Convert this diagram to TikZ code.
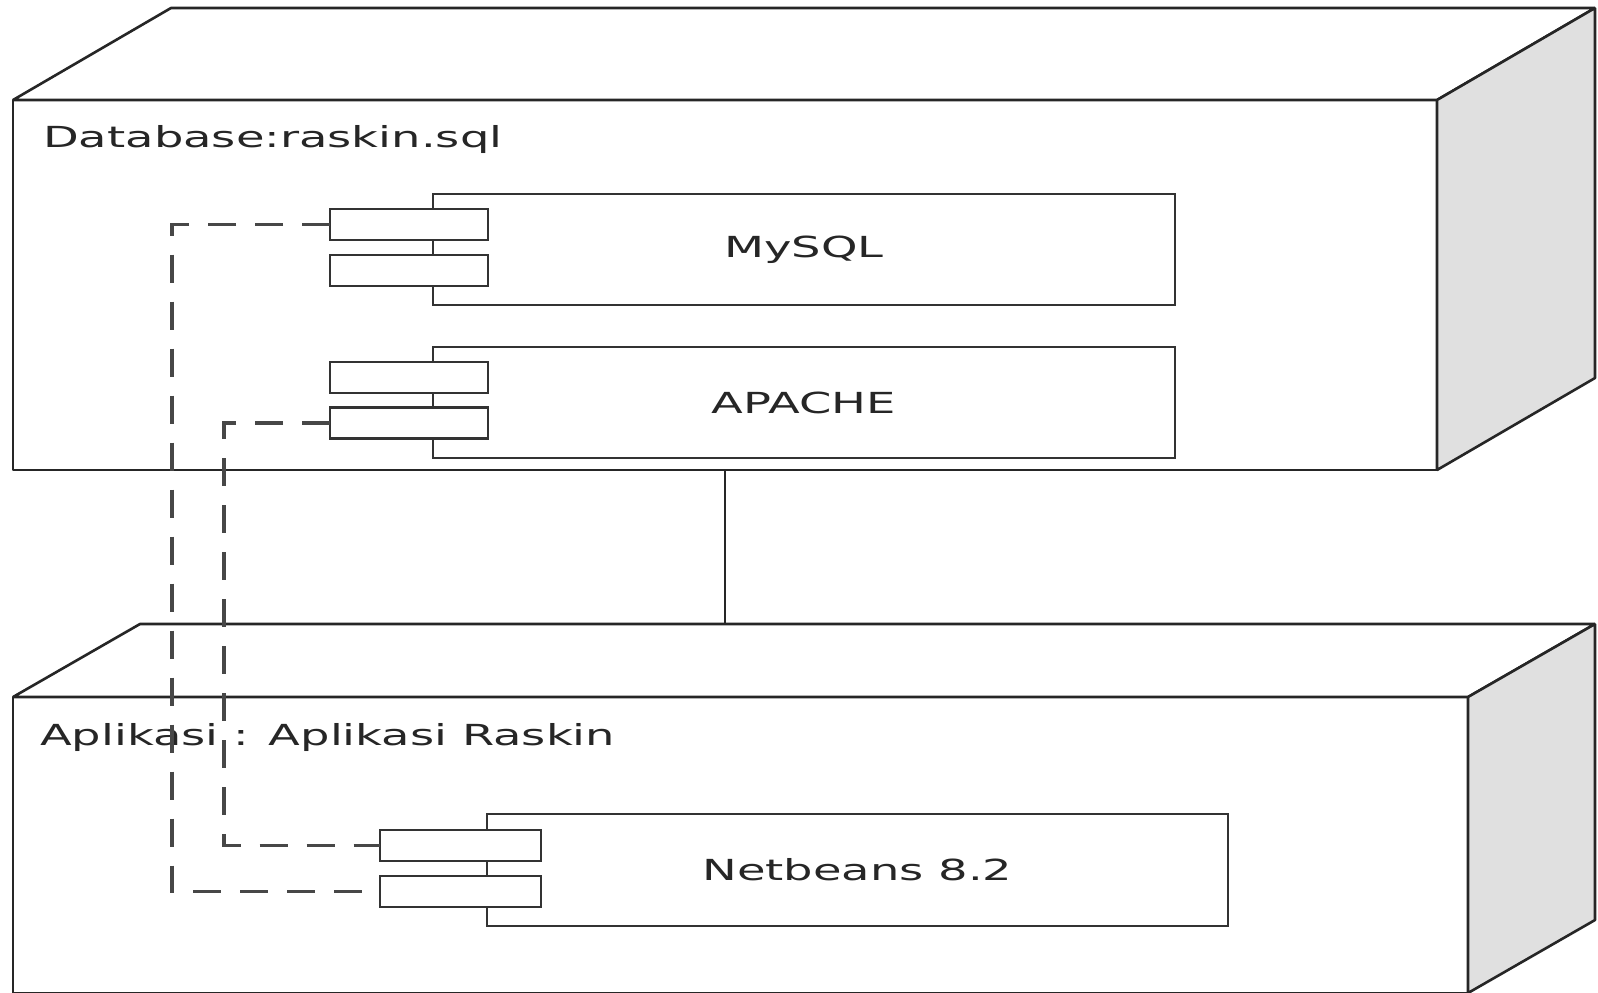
\documentclass[tikz,border=0pt]{standalone}
\usepackage{fontspec}
\setmainfont{DejaVu Sans}[FakeStretch=1.6]
\begin{document}
\begin{tikzpicture}[x=1pt,y=-1pt,
  face/.style={draw=black!85, line width=2.6pt, line join=bevel},
  frontface/.style={face, fill=white, inner sep=0pt, outer sep=0pt},
  sideface/.style={face, fill=black!12},
  comp/.style={draw=black!80, fill=white, line width=2.8pt, inner sep=0pt, outer sep=0pt,
    minimum width=742pt, minimum height=111pt, font=\fontsize{29}{34}\selectfont, text=black!85},
  port/.style={draw=black!80, fill=white, line width=2.8pt, inner sep=0pt, outer sep=0pt,
    minimum width=158pt, minimum height=31pt},
  dep/.style={draw=black!72, line width=3.2pt, dash pattern=on 28pt off 19pt},
  link/.style={draw=black!85, line width=2.6pt},
  lbl/.style={anchor=base west, inner sep=0pt, font=\fontsize{29}{34}\selectfont, text=black!85}]
\useasboundingbox (0,0) rectangle (1598,993);
\fill[white] (0,0) rectangle (1598,993);

% ---- top node: Database
\node[frontface, minimum width=1424pt, minimum height=370pt] (db) at (725,285) {};
\coordinate (dbk) at ([shift={(158,-92)}]db.north west);
\draw[face, fill=white] (db.north west) -- (dbk) -- ++(1424,0) -- (db.north east) -- cycle;
\draw[sideface] (db.north east) -- ++(158,-92) -- ++(0,370) -- (db.south east) -- cycle;
\node[lbl] (dblbl) at (43,147) {Database:raskin.sql};

% ---- bottom node: Aplikasi
\node[frontface, minimum width=1455pt, minimum height=296pt] (app) at (740.5,845) {};
\coordinate (abk) at ([shift={(127,-73)}]app.north west);
\draw[face, fill=white] (app.north west) -- (abk) -- ++(1455,0) -- (app.north east) -- cycle;
\draw[sideface] (app.north east) -- ++(127,-73) -- ++(0,296) -- (app.south east) -- cycle;
\node[lbl] (applbl) at (40,745) {Aplikasi : Aplikasi Raskin};

% ---- components
\node[comp] (mysql) at (804,249.5) {MySQL};
\node[port] (mp1) at (409,224.5) {};
\node[port] (mp2) at (409,270.5) {};

\node[comp] (apache) at (804,402.5) {APACHE};
\node[port] (ap1) at (409,377.5) {};
\node[port] (ap2) at (409,423) {};

\node[comp, minimum width=741pt, minimum height=112pt] (nb) at (857.5,870) {Netbeans 8.2};
\node[port, minimum width=161pt] (np1) at (460.5,845.5) {};
\node[port, minimum width=161pt] (np2) at (460.5,891.5) {};

% ---- connectors
\draw[link] (db.south) -- (db.south |- abk);
\draw[dep] (mp1.west) -- ++(-158,0) |- (np2.west);
\draw[dep] (ap2.west) -- ++(-106,0) |- (np1.west);
\end{tikzpicture}
\end{document}
